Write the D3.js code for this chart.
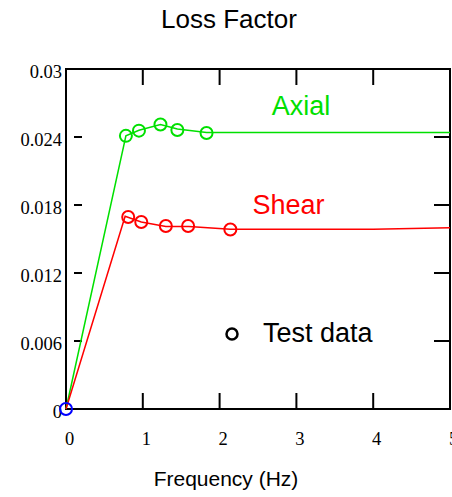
<!DOCTYPE html>
<html>
<head>
<meta charset="utf-8">
<script src="https://cdn.jsdelivr.net/npm/d3@7"></script>
<style>
  body { margin: 0; background: #fff; }
  svg { display: block; }
</style>
</head>
<body>
<script>
// Loss factor vs frequency, axial and shear

const xTicks = [0, 1, 2, 3, 4, 5];
const yTicks = [0, 0.006, 0.012, 0.018, 0.024, 0.03];

// model curves
const axialFreq = [0, 0.78, 0.95, 1.23, 1.45, 1.83, 5];
const axialLoss = [0, 0.0241, 0.0246, 0.0251, 0.0247, 0.0244, 0.0244];
const shearFreq = [0, 0.77, 0.98, 1.3, 1.6, 2.14, 4, 5];
const shearLoss = [0, 0.0170, 0.0165, 0.0161, 0.0161, 0.01585, 0.01585, 0.0160];

// test data points
const axialTestFreq = [0.78, 0.95, 1.23, 1.45, 1.83];
const axialTestLoss = [0.0241, 0.02456, 0.0251, 0.02462, 0.02435];
const shearTestFreq = [0.81, 0.98, 1.30, 1.59, 2.14];
const shearTestLoss = [0.01694, 0.0165, 0.01615, 0.01615, 0.01584];
const originPoint = [0, 0];

const width = 452, height = 497;
const plotL = 66, plotR = 450, plotT = 69, plotB = 409;

const x = d3.scaleLinear().domain([0, 5]).range([plotL, plotR]);
const y = d3.scaleLinear().domain([0, 0.03]).range([plotB, plotT]);

const svg = d3.select('body').append('svg')
    .attr('width', width)
    .attr('height', height);

const serif = '"Liberation Serif", "Times New Roman", serif';
const sans = '"Liberation Sans", Arial, sans-serif';

// frame
svg.append('rect')
    .attr('x', plotL).attr('y', plotT)
    .attr('width', plotR - plotL).attr('height', plotB - plotT)
    .attr('fill', 'none').attr('stroke', '#000').attr('stroke-width', 2);

// bottom axis labels
const xAxis = d3.axisBottom(x).tickValues(xTicks).tickSize(0).tickPadding(23)
    .tickFormat(d3.format('d'));
const gx = svg.append('g')
    .attr('transform', `translate(3,${plotB})`)
    .call(xAxis);
gx.select('.domain').remove();
gx.selectAll('text').attr('font-family', serif).attr('font-size', 18.5).attr('fill', '#000');

// left axis labels
const yAxis = d3.axisLeft(y).tickValues(yTicks).tickSize(0).tickPadding(4)
    .tickFormat(d => d === 0 ? '0' : String(+d.toFixed(3)));
const gy = svg.append('g')
    .attr('transform', `translate(${plotL},3)`)
    .call(yAxis);
gy.select('.domain').remove();
gy.selectAll('text').attr('font-family', serif).attr('font-size', 18.5).attr('fill', '#000');

// tick marks
const ticks = svg.append('g').attr('stroke', '#000').attr('stroke-width', 2);
xTicks.slice(1, -1).forEach(t => {
    ticks.append('line').attr('x1', x(t)).attr('x2', x(t)).attr('y1', plotB).attr('y2', plotB - 16);
    ticks.append('line').attr('x1', x(t)).attr('x2', x(t)).attr('y1', plotT).attr('y2', plotT + 16);
});
yTicks.forEach(t => {
    ticks.append('line').attr('x1', plotL + 8).attr('x2', plotL + 16).attr('y1', y(t)).attr('y2', y(t));
    ticks.append('line').attr('x1', plotR - 16).attr('x2', plotR).attr('y1', y(t)).attr('y2', y(t));
});

const line = d3.line().x(d => x(d[0])).y(d => y(d[1]));

const curves = [
    { f: axialFreq, v: axialLoss, tf: axialTestFreq, tv: axialTestLoss, color: '#00e000' },
    { f: shearFreq, v: shearLoss, tf: shearTestFreq, tv: shearTestLoss, color: '#ff0000' }
];

curves.forEach(c => {
    svg.append('path')
        .datum(c.f.map((f, i) => [f, c.v[i]]))
        .attr('fill', 'none')
        .attr('stroke', c.color)
        .attr('stroke-width', 1.5)
        .attr('d', line);
    svg.append('g').selectAll('circle')
        .data(c.tf.map((f, i) => [f, c.tv[i]]))
        .join('circle')
        .attr('cx', d => x(d[0]))
        .attr('cy', d => y(d[1]))
        .attr('r', 6)
        .attr('fill', 'none')
        .attr('stroke', c.color)
        .attr('stroke-width', 2);
});

svg.append('circle')
    .attr('cx', x(originPoint[0]))
    .attr('cy', y(originPoint[1]))
    .attr('r', 6)
    .attr('fill', 'none')
    .attr('stroke', '#0000ff')
    .attr('stroke-width', 2);

// texts
svg.append('text')
    .attr('x', 229).attr('y', 28)
    .attr('text-anchor', 'middle')
    .attr('font-family', sans).attr('font-size', 26)
    .text('Loss Factor');

svg.append('text')
    .attr('x', 301).attr('y', 115)
    .attr('text-anchor', 'middle')
    .attr('font-family', sans).attr('font-size', 27)
    .attr('fill', '#00e000')
    .text('Axial');

svg.append('text')
    .attr('x', 288.5).attr('y', 214)
    .attr('text-anchor', 'middle')
    .attr('font-family', sans).attr('font-size', 27)
    .attr('fill', '#ff0000')
    .text('Shear');

svg.append('circle')
    .attr('cx', 232).attr('cy', 334).attr('r', 5.5)
    .attr('fill', 'none').attr('stroke', '#000').attr('stroke-width', 2.5);
svg.append('text')
    .attr('x', 263).attr('y', 342)
    .attr('font-family', sans).attr('font-size', 27)
    .text('Test data');

svg.append('text')
    .attr('x', 226).attr('y', 486)
    .attr('text-anchor', 'middle')
    .attr('font-family', sans).attr('font-size', 21)
    .text('Frequency (Hz)');
</script>
</body>
</html>
